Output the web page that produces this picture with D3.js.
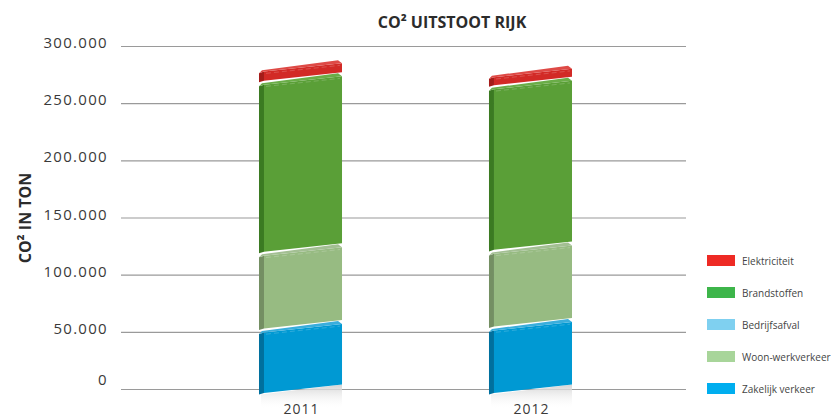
<!DOCTYPE html>
<html>
<head>
<meta charset="utf-8">
<script src="https://cdn.jsdelivr.net/npm/d3@7"></script>
<style>
  html, body { margin: 0; padding: 0; background: #fff; }
  svg { display: block; }
</style>
</head>
<body>
<script>
// ---- data ----
const years = ["2011", "2012"];
const seriesNames = ["Zakelijk verkeer", "Woon-werkverkeer", "Bedrijfsafval", "Brandstoffen", "Elektriciteit"];
const zakelijk = [55600, 57300];
const woonWerk = [67000, 67000];
const bedrijfsafval = [0, 0];
const brandstoffen = [149700, 144000];
const elektriciteit = [11400, 10500];
const yTicks = [0, 50000, 100000, 150000, 200000, 250000, 300000];
const legendOrder = ["Elektriciteit", "Brandstoffen", "Bedrijfsafval", "Woon-werkverkeer", "Zakelijk verkeer"];

const values = [zakelijk, woonWerk, bedrijfsafval, brandstoffen, elektriciteit];

const frontColors = ["#0099d3", "#97bb82", "#7fd0f0", "#5a9f37", "#d22a26"];
const sideColors  = ["#00709e", "#748f63", "#5aa8c8", "#3b7a22", "#a51c19"];
const topColors   = ["#3aaedc", "#a3bf93", "#a0dcf4", "#6aad48", "#de4a46"];
const legendColors = {"Elektriciteit": "#ee2a24", "Brandstoffen": "#3db54a", "Bedrijfsafval": "#7fd0f0",
                      "Woon-werkverkeer": "#a8d59a", "Zakelijk verkeer": "#00aeef"};

const W = 831, H = 419;
const svg = d3.select("body").append("svg").attr("width", W).attr("height", H);

const y = d3.scaleLinear().domain([0, 300000]).range([389, 46]);
const x = d3.scaleBand().domain(years).range([144, 687]).paddingInner(0.639).paddingOuter(0.5);

// grid
const gAxis = svg.append("g").attr("transform", "translate(686,0)");
gAxis.call(d3.axisLeft(y).tickValues(yTicks).tickSize(565).tickFormat(""));
gAxis.select(".domain").remove();
gAxis.selectAll(".tick line").attr("stroke", "#9a9a9a").attr("stroke-width", 1.2);

const gLab = svg.append("g").attr("transform", "translate(108,0)");
gLab.call(d3.axisLeft(y).tickValues(yTicks).tickSize(0).tickPadding(0)
  .tickFormat(d => d3.format(",")(d).replace(/,/g, ".")));
gLab.select(".domain").remove();
gLab.selectAll(".tick text")
  .attr("font-family", "'Open Sans', sans-serif").attr("font-size", 15)
  .attr("fill", "#3a3a3a").attr("letter-spacing", 1.3)
  .attr("dy", d => d === 0 ? "-0.3em" : "0.1em");

// bars
const sideW = 5, skew = 9;
const defs = svg.append("defs");
const sg = defs.append("linearGradient").attr("id", "shadow").attr("x1", 0).attr("x2", 0).attr("y1", 0).attr("y2", 1);
sg.append("stop").attr("offset", 0).attr("stop-color", "#d4d4d4");
sg.append("stop").attr("offset", 1).attr("stop-color", "#ffffff").attr("stop-opacity", 0);

years.forEach((yr, i) => {
  const xL = x(yr), xR = x(yr) + x.bandwidth();
  const xc = (xL + xR) / 2;
  const k = skew / (xR - xL);
  const yAt = (v, px) => y(v) + k * (xc - px);
  const g = svg.append("g");
  // shadow
  g.append("path")
    .attr("d", `M${xL + 2},${yAt(0, xL) + 1} L${xR},${yAt(0, xR)} L${xR},${yAt(0, xR) + 24} L${xL + 2},${yAt(0, xL) + 16} Z`)
    .attr("fill", "url(#shadow)");
  let cum = 0;
  values.forEach((arr, s) => {
    const v = arr[i];
    if (v <= 0) return;
    const v0 = cum, v1 = cum + v;
    cum = v1;
    const yt = (px) => yAt(v1, px) + 3; // front face top (leaving room for top face)
    const yb = (px) => yAt(v0, px) - (s === 0 ? 0 : 1);
    const xF = xL + sideW;
    // side face
    g.append("path")
      .attr("d", `M${xL},${yb(xL) + 1} L${xF},${yb(xF)} L${xF},${yt(xF)} L${xL},${yt(xL) + 1} Z`)
      .attr("fill", sideColors[s]);
    // front face
    g.append("path")
      .attr("d", `M${xF},${yb(xF)} L${xR},${yb(xR)} L${xR},${yt(xR)} L${xF},${yt(xF)} Z`)
      .attr("fill", frontColors[s]);
    // top face
    g.append("path")
      .attr("d", `M${xL},${yt(xL) + 1} L${xF},${yt(xF)} L${xR},${yt(xR)} L${xR - 4},${yt(xR) - 3} L${xL + 3},${yt(xL) - 2} Z`)
      .attr("fill", topColors[s]);
    // highlight dashed line
    g.append("line")
      .attr("x1", xF + 2).attr("y1", yt(xF + 2) + 2).attr("x2", xR - 2).attr("y2", yt(xR - 2) + 2)
      .attr("stroke", "#ffffff").attr("stroke-opacity", 0.18).attr("stroke-dasharray", "5,3");
  });
});

// x labels
svg.append("g").selectAll("text").data(years).join("text")
  .attr("x", d => x(d) + x.bandwidth() / 2 + 1).attr("y", 414)
  .attr("text-anchor", "middle")
  .attr("font-family", "'Open Sans', sans-serif").attr("font-size", 14)
  .attr("fill", "#3a3a3a").attr("letter-spacing", 1)
  .text(d => d);

// title
svg.append("text").attr("x", 452).attr("y", 28).attr("text-anchor", "middle")
  .attr("font-family", "'Open Sans', sans-serif").attr("font-weight", "bold").attr("font-size", 16)
  .attr("fill", "#2b2b2b").text("CO² UITSTOOT RIJK");

// y title
svg.append("text").attr("transform", "translate(31,218) rotate(-90)").attr("text-anchor", "middle")
  .attr("font-family", "'Open Sans', sans-serif").attr("font-weight", "bold").attr("font-size", 16)
  .attr("fill", "#2b2b2b").text("CO² IN TON");

// legend
const leg = svg.append("g").selectAll("g").data(legendOrder).join("g")
  .attr("transform", (d, i) => `translate(707,${255 + i * 32})`);
leg.append("rect").attr("width", 28).attr("height", 11).attr("fill", d => legendColors[d]);
leg.append("text").attr("x", 35).attr("y", 9.5)
  .attr("font-family", "'Open Sans', sans-serif").attr("font-size", 10)
  .attr("fill", "#444").text(d => d);
</script>
</body>
</html>
